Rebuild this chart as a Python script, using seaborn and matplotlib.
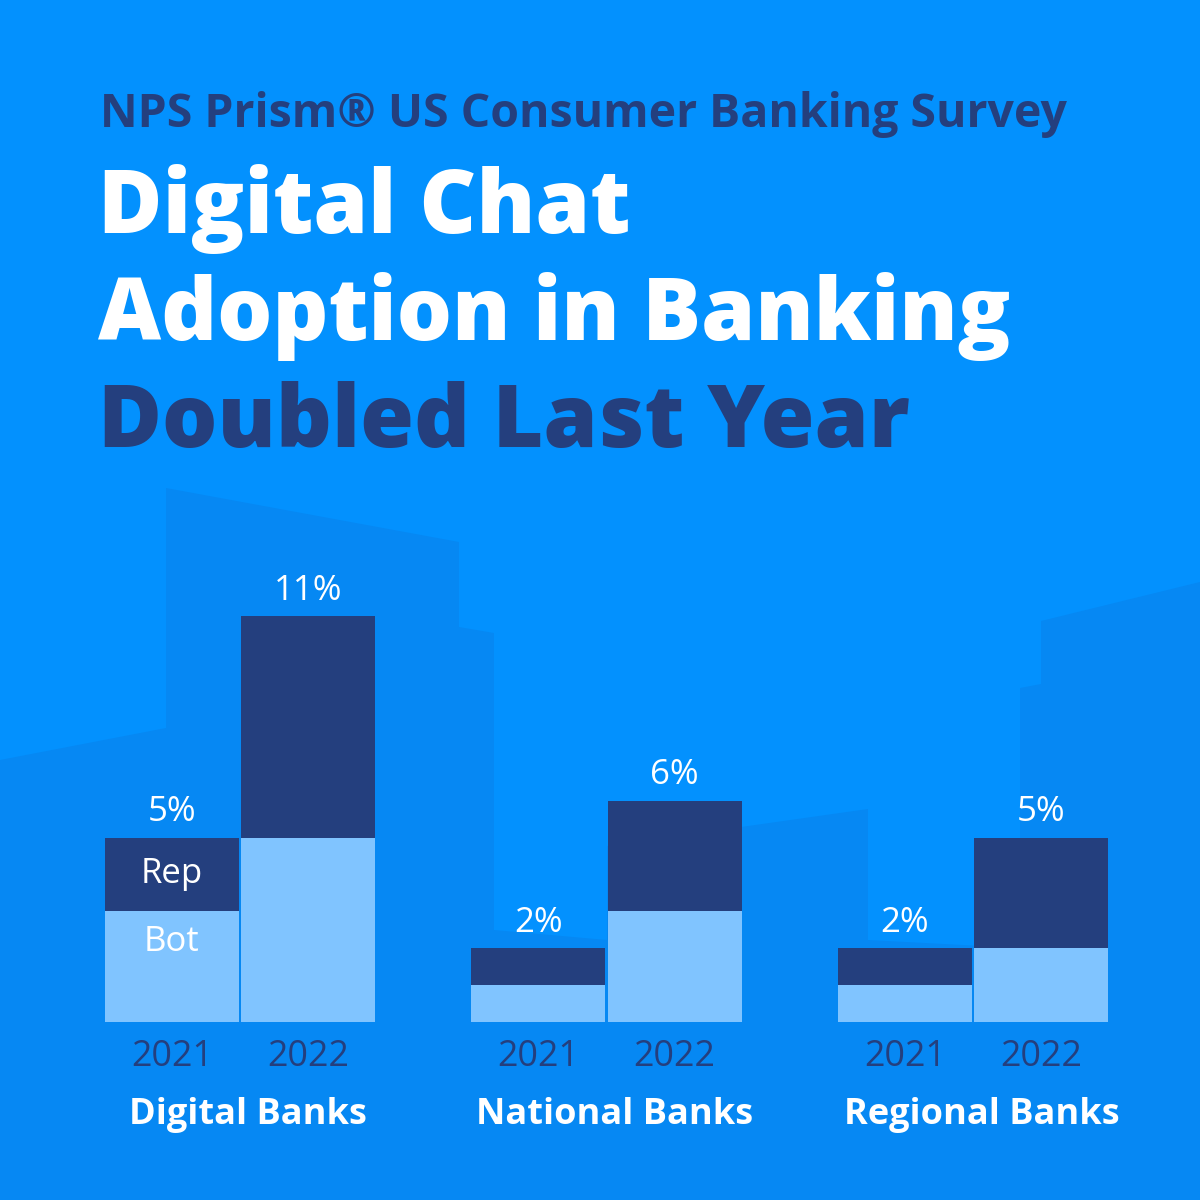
import matplotlib
matplotlib.use("Agg")
import matplotlib.pyplot as plt
import seaborn as sns
import pandas as pd
from matplotlib.patches import Polygon

# data (% of customers using digital chat)
banks = ["Digital Banks", "National Banks", "Regional Banks"]
years = ["2021", "2022"]
total_2021 = [5, 2, 2]
total_2022 = [11, 6, 5]
bot_2021 = [3, 1, 1]
bot_2022 = [5, 3, 2]

bg = "#0391FE"
shade = "#0688F3"
navy = "#243F7E"
light = "#80C4FF"

df = pd.DataFrame({
    "bank": banks * 2,
    "year": [years[0]] * 3 + [years[1]] * 3,
    "total": total_2021 + total_2022,
    "bot": bot_2021 + bot_2022,
})

sns.set_theme(style="white")
plt.rcParams["font.family"] = ["Open Sans", "DejaVu Sans"]

fig = plt.figure(figsize=(12, 12), dpi=100)
fig.patch.set_facecolor(bg)
renderer = fig.canvas.get_renderer()


def fit_width(t, target_px):
    # rescale a text so that it spans target_px pixels
    w = t.get_window_extent(renderer).width
    t.set_fontsize(t.get_fontsize() * target_px / w)


ax = fig.add_axes([0, 0, 1, 1])
ax.set_facecolor("none")

# background skyline (decoration, pixel coords from the top-left)
sky = [(0, 760), (166, 728), (166, 488), (459, 542), (459, 627), (494, 633),
       (494, 930), (607, 940), (607, 846), (868, 809), (868, 940), (1020, 948),
       (1020, 688), (1041, 684), (1041, 621), (1200, 582), (1200, 1200), (0, 1200)]
ax.add_patch(Polygon([(x / 1200, 1 - y / 1200) for x, y in sky],
                     closed=True, transform=fig.transFigure,
                     facecolor=shade, edgecolor="none", zorder=0))

sns.barplot(data=df, x="bank", y="total", hue="year", order=banks,
            hue_order=years, palette=[navy, navy], width=0.743, gap=0.015,
            errorbar=None, legend=False, ax=ax, saturation=1, linewidth=0,
            zorder=2)
sns.barplot(data=df, x="bank", y="bot", hue="year", order=banks,
            hue_order=years, palette=[light, light], width=0.743, gap=0.015,
            errorbar=None, legend=False, ax=ax, saturation=1, linewidth=0,
            zorder=3)

px = 36.9  # pixels per percentage point
ax.set_xlim(-240 / 366.5, (1200 - 240) / 366.5)
ax.set_ylim(-178 / px, (1200 - 178) / px)
ax.axis("off")

num_font = ["Open Sans", "DejaVu Sans"]

# labels on top of the stacks and years under each bar
totals = [total_2021, total_2022]
for i, cont in enumerate(ax.containers[:2]):
    for j, bar in enumerate(cont):
        cx = bar.get_x() + bar.get_width() / 2
        ax.annotate(f"{totals[i][j]}%", (cx, bar.get_height()),
                    xytext=(0, 6), textcoords="offset points",
                    ha="center", va="bottom", color="white", fontsize=25,
                    family=num_font, zorder=4)
        yl = ax.annotate(years[i], (cx, 0), xytext=(0, -12),
                         textcoords="offset points", ha="center", va="top",
                         color=navy, fontsize=25, family=num_font, zorder=4)
        fit_width(yl, 82)

# Rep / Bot legend written inside the first bar
first_total = ax.containers[0][0]
first_bot = ax.containers[2][0]
cx = first_total.get_x() + first_total.get_width() / 2
ax.text(cx, (first_total.get_height() + first_bot.get_height()) / 2, "Rep",
        ha="center", va="center", color="white", fontsize=25, family=num_font,
        zorder=4)
ax.text(cx, first_bot.get_height() * 0.72, "Bot",
        ha="center", va="center", color="white", fontsize=25, family=num_font,
        zorder=4)

# group names
for k, name in enumerate(banks):
    ax.annotate(name, (k, 0), xytext=(6, -54), textcoords="offset points",
                ha="center", va="top", color="white", fontsize=26,
                fontweight="bold", zorder=4)

sub = fig.text(100 / 1200, 1 - 127 / 1200, "NPS Prism® US Consumer Banking Survey",
               color=navy, fontsize=31, fontweight="bold", va="baseline")
fit_width(sub, 966)
title = [("Digital Chat", 233, "white", 532),
         ("Adoption in Banking", 340, "white", 912),
         ("Doubled Last Year", 447, navy, 812)]
for line, base, col, w in title:
    t = fig.text(98 / 1200, 1 - base / 1200, line, color=col, fontsize=57,
                 fontweight="heavy", va="baseline")
    fit_width(t, w)

fig.savefig("out.png", dpi=100, facecolor=bg)
